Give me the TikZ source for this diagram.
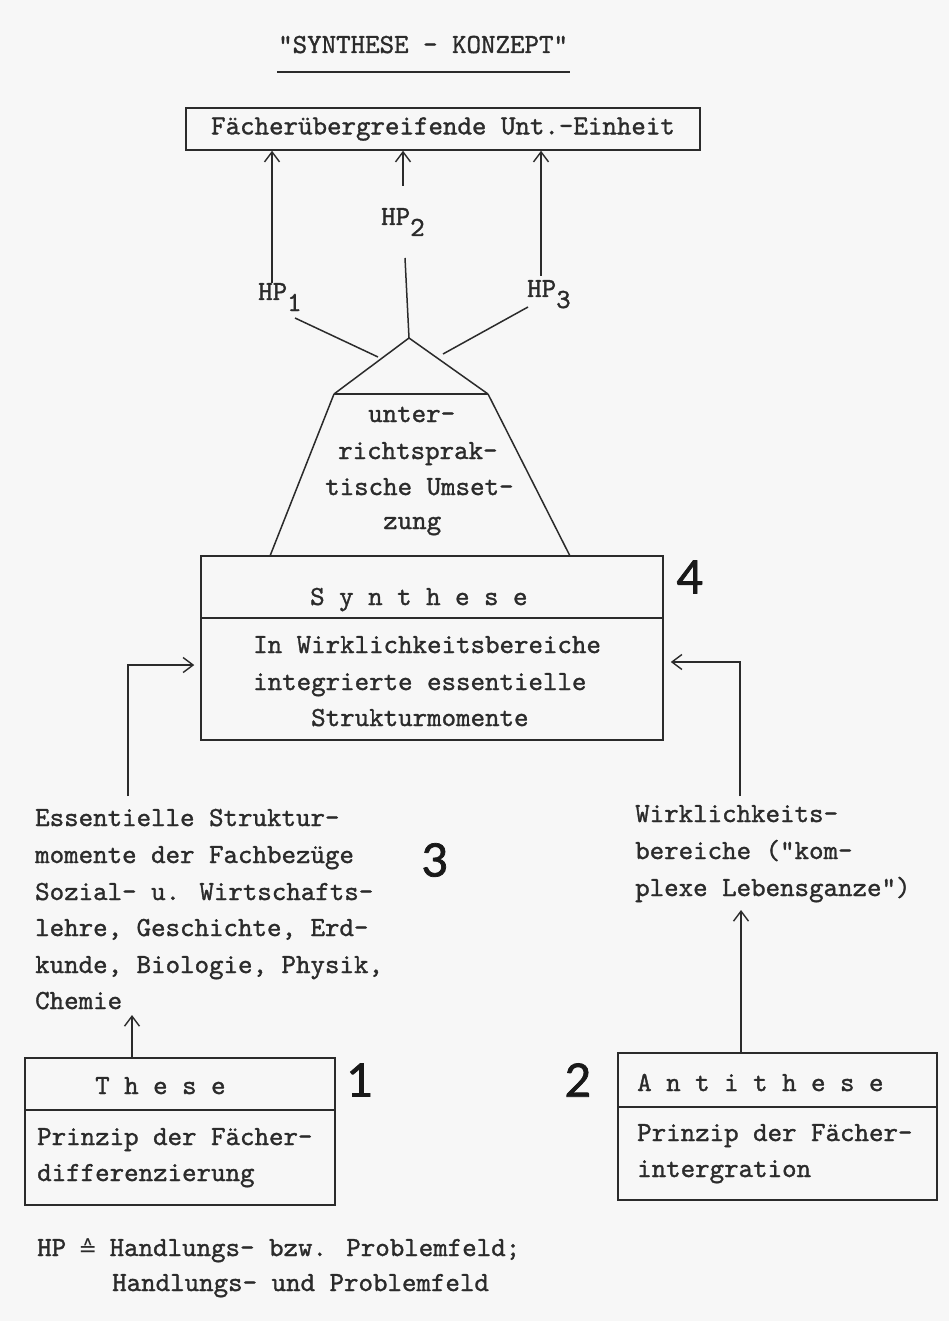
\documentclass[tikz,border=0pt]{standalone}
\usepackage{fontspec}
\newfontface\tw{lmmono10-regular.otf}[FakeBold=1.2]
\newfontface\numf{Lato}[FakeBold=1.6]
\newfontfamily\symf{DejaVu Sans}
\usetikzlibrary{arrows.meta}
\definecolor{ink}{HTML}{2B2B2B}
\definecolor{paper}{HTML}{F7F7F7}
\tikzset{
  tt/.style={font=\tw\fontsize{27.6}{30}\selectfont, inner sep=0pt, text=ink, anchor=base west},
  numlbl/.style={font=\numf\fontsize{46}{50}\selectfont, inner sep=0pt, text=black!90},
  boxnode/.style={draw=ink, line width=1.5pt, inner sep=0pt},
  ln/.style={draw=ink, line width=1.5pt},
  arr/.style={draw=ink, line width=1.4pt, -{Straight Barb[length=10pt,width=15pt]}},
}
\newcommand{\sub}[1]{\raisebox{-11pt}{#1}}
\begin{document}
\begin{tikzpicture}[x=1pt,y=-1pt]
\fill[paper] (0,0) rectangle (949,1321);
\useasboundingbox (0,0) rectangle (949,1321);

% title
\node[tt] (title) at (278,53) {"SYNTHESE - KONZEPT"};
\draw[ink, line width=2.4pt] (277,72) -- (570,72);

% top box
\node[boxnode, minimum width=514pt, minimum height=42pt, font=\tw\fontsize{27.6}{30}\selectfont, text=ink] (top) at (443,129) {Fächerübergreifende Unt.-Einheit};

% HP labels
\node[tt] (hp1) at (258,300) {HP\sub{1}};
\node[tt] (hp2) at (381,225) {HP\sub{2}};
\node[tt] (hp3) at (527,297) {HP\sub{3}};

% arrows to top box
\coordinate (a1) at (272,283);
\coordinate (a2) at (403,186);
\coordinate (a3) at (541,276);
\draw[arr] (a1) -- (a1 |- top.south);
\draw[arr] (a2) -- (a2 |- top.south);
\draw[arr] (a3) -- (a3 |- top.south);

% synthese box
\node[boxnode, minimum width=462pt, minimum height=184pt] (synth) at (432,648) {};
\draw[ln] (synth.west |- 0,618) -- (synth.east |- 0,618);
\node[tt] (syn) at (310,605) {S y n t h e s e};
\node[tt] (syn1) at (253,653) {In Wirklichkeitsbereiche};
\node[tt] (syn2) at (253,690) {integrierte essentielle};
\node[tt] (syn3) at (311,726) {Strukturmomente};

% pyramid
\coordinate (apex) at (409,338);
\coordinate (tl) at (334,394);
\coordinate (tr) at (488,394);
\coordinate (bl) at (270,556);
\coordinate (br) at (570,556);
\draw[ln] (tl) -- (apex) -- (tr);
\draw[ln] (tl) -- (tr);
\draw[ln] (tl) -- (bl);
\draw[ln] (tr) -- (br);
\node[tt] (u1) at (368,422) {unter-};
\node[tt] (u2) at (338,459) {richtsprak-};
\node[tt] (u3) at (325,495) {tische Umset-};
\node[tt] (u4) at (383,529) {zung};

% HP lines
\coordinate (l1s) at (295,318);
\coordinate (l1e) at (378,357);
\coordinate (l2s) at (405,258);
\coordinate (l3s) at (528,307);
\coordinate (l3e) at (443,354);
\draw[ln] (l1s) -- (l1e);
\draw[ln] (l2s) -- (apex);
\draw[ln] (l3s) -- (l3e);

% left text block
\node[tt] (e1) at (35,826) {Essentielle Struktur-};
\node[tt] (e2) at (35,863) {momente der Fachbezüge};
\node[tt] (e3) at (35,900) {Sozial- u. Wirtschafts-};
\node[tt] (e4) at (35,936) {lehre, Geschichte, Erd-};
\node[tt] (e5) at (35,973) {kunde, Biologie, Physik,};
\node[tt] (e6) at (35,1009) {Chemie};

% right text block
\node[tt] (w1) at (635,822) {Wirklichkeits-};
\node[tt] (w2) at (635,859) {bereiche ("kom-};
\node[tt] (w3) at (635,896) {plexe Lebensganze")};

% elbow arrows into synthese
\coordinate (lstart) at (128,796);
\coordinate (rstart) at (740,796);
\draw[arr, shorten >=6pt] (lstart) |- (synth.west |- 0,665);
\draw[arr, shorten >=7pt] (rstart) |- (synth.east |- 0,662);

% these box
\node[boxnode, minimum width=310pt, minimum height=147pt] (these) at (180,1131.5) {};
\draw[ln] (these.west |- 0,1110) -- (these.east |- 0,1110);
\node[tt] (th) at (95,1094) {T h e s e};
\node[tt] (th1) at (37,1145) {Prinzip der Fächer-};
\node[tt] (th2) at (37,1181) {differenzierung};

% antithese box
\node[boxnode, minimum width=319pt, minimum height=147pt] (anti) at (777.5,1126.5) {};
\draw[ln] (anti.west |- 0,1107) -- (anti.east |- 0,1107);
\node[tt] (at) at (637,1091) {A n t i t h e s e};
\node[tt] (at1) at (637,1141) {Prinzip der Fächer-};
\node[tt] (at2) at (637,1177) {intergration};

% arrows from boxes up to text
\coordinate (chem) at (132,1015);
\coordinate (lebens) at (741,910);
\draw[arr] (these.north -| chem) -- (chem);
\draw[arr] (anti.north -| lebens) -- (lebens);

% numbers
\node[numlbl] (n4) at (690,577) {4};
\node[numlbl] (n3) at (435,860) {3};
\node[numlbl] (n1) at (360,1080) {1};
\node[numlbl] (n2) at (578,1080) {2};

% legend
\node[tt] (leg1) at (37,1256) {HP \makebox[14.5pt]{\symf\fontsize{22}{24}\selectfont ≙} Handlungs- bzw. Problemfeld;};
\node[tt] (leg2) at (112,1291) {Handlungs- und Problemfeld};
\end{tikzpicture}
\end{document}
